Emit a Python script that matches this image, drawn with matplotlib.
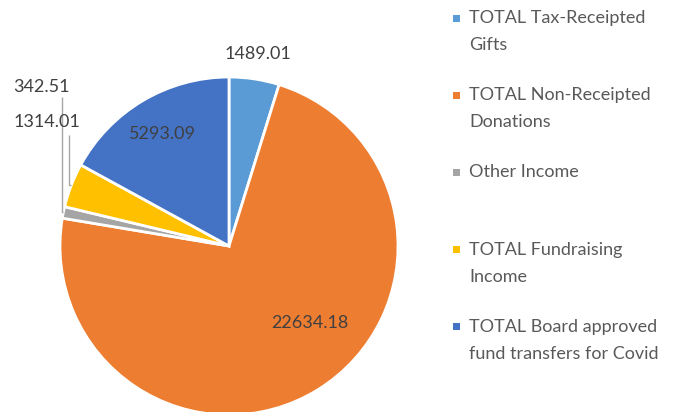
import numpy as np
import matplotlib
matplotlib.use('Agg')
import matplotlib.pyplot as plt
from matplotlib.patches import Rectangle

# data
labels = ['TOTAL Tax-Receipted\nGifts',
          'TOTAL Non-Receipted\nDonations',
          'Other Income',
          'TOTAL Fundraising\nIncome',
          'TOTAL Board approved\nfund transfers for Covid']
values = [1489.01, 22634.18, 342.51, 1314.01, 5293.09]
colors = ['#5B9BD5', '#ED7D31', '#A5A5A5', '#FFC000', '#4472C4']

plt.rcParams['font.family'] = ['Lato', 'DejaVu Sans']
txtcol = '#404040'

W, H = 680, 412
fig = plt.figure(figsize=(W / 100, H / 100), dpi=100)

# pie centre (229, 246) px, radius 169 px
cx, cy, r = 229, 246, 169
ax = fig.add_axes([(cx - r) / W, (H - cy - r) / H, 2 * r / W, 2 * r / H])
wedges, _ = ax.pie(values, colors=colors, startangle=90, counterclock=False,
                   radius=1, wedgeprops=dict(edgecolor='white', linewidth=2))
ax.set_xlim(-1, 1)
ax.set_ylim(-1, 1)
ax.set_aspect('equal')
ax.axis('off')

def mid(w):
    return np.deg2rad((w.theta1 + w.theta2) / 2)

# data labels: (x, y) in pie units, None -> use mid angle at given radius
lab_pos = [None, (0.479, -0.456), (-1.107, 0.941), (-1.077, 0.734), None]
lab_rad = [1.15, None, None, None, 0.77]
lead_top = {2: (-0.988, 0.882), 3: (-0.947, 0.657)}

for i, (w, v) in enumerate(zip(wedges, values)):
    a = mid(w)
    if lab_pos[i] is None:
        x, y = lab_rad[i] * np.cos(a), lab_rad[i] * np.sin(a)
    else:
        x, y = lab_pos[i]
    ax.text(x, y, f'{v:.2f}', ha='center', va='center', fontsize=13,
            color=txtcol, clip_on=False)
    if i in lead_top:
        lx, ly = lead_top[i]
        ex, ey = np.cos(a), np.sin(a)
        ax.plot([lx, lx, ex], [ly, ey, ey], color='#A6A6A6', lw=1,
                clip_on=False, solid_capstyle='butt')

# legend drawn by hand: markers aligned to first text line
for i, (lab, c) in enumerate(zip(labels, colors)):
    ytop = 18 + 77.2 * i
    fig.add_artist(Rectangle(((453) / W, (H - ytop - 3.5) / H), 7 / W, 7 / H,
                             transform=fig.transFigure, facecolor=c,
                             edgecolor='none'))
    fig.text(469 / W, (H - ytop + 8) / H, lab, ha='left', va='top',
             fontsize=13, color='#595959', linespacing=1.85)

fig.savefig('out.png', dpi=100)
